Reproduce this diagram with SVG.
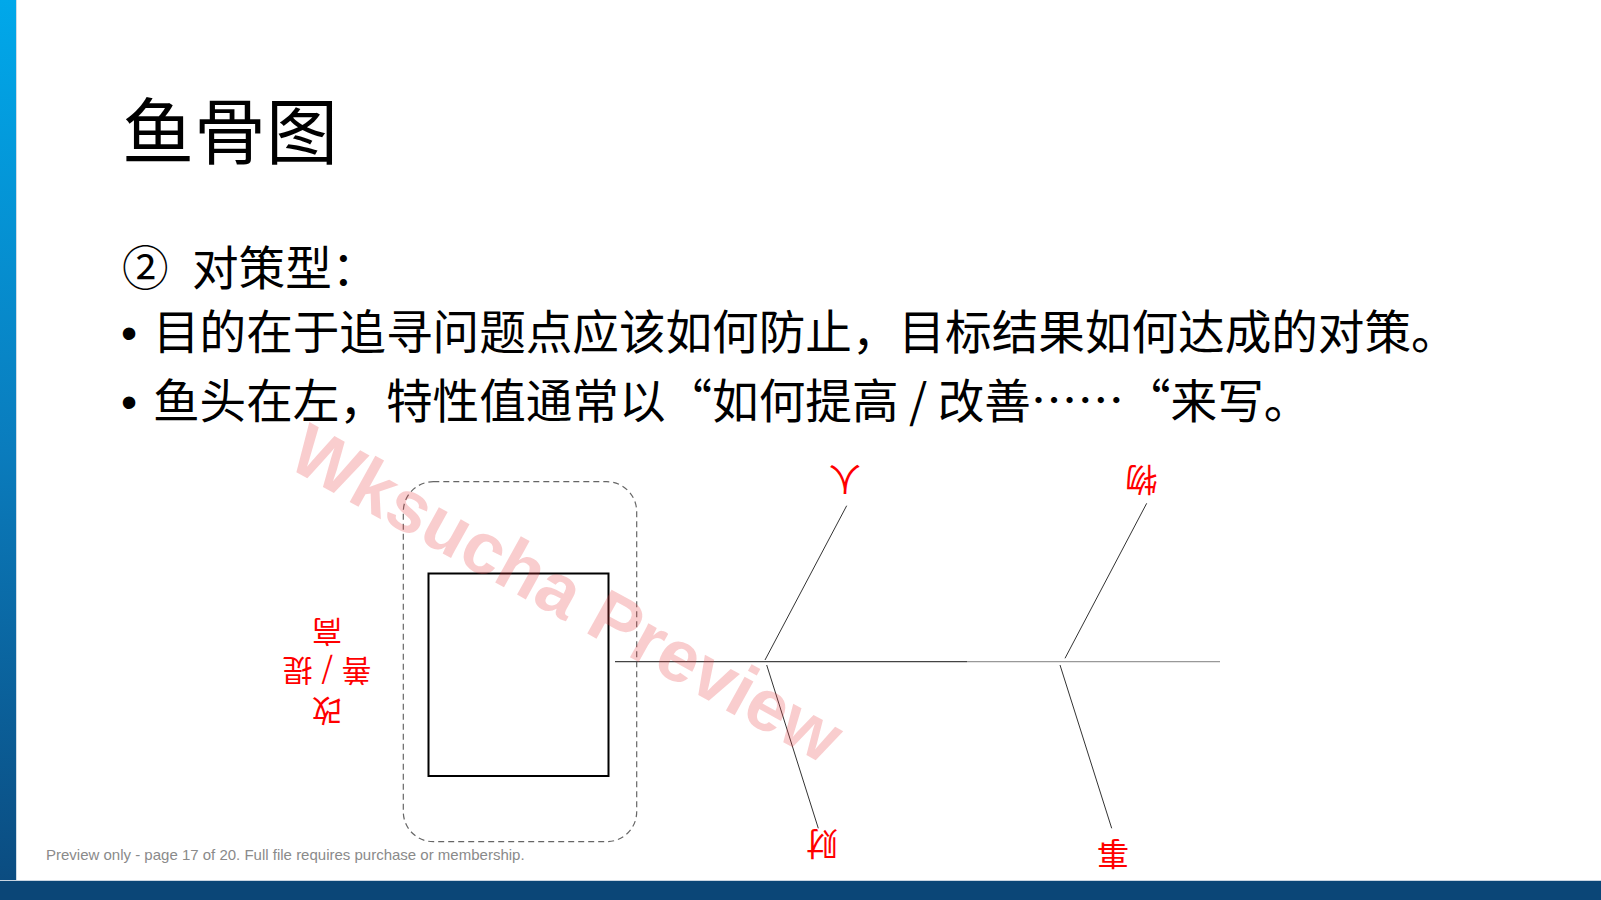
<svg xmlns="http://www.w3.org/2000/svg" width="1601" height="900" viewBox="0 0 1601 900">
  <defs>
    <linearGradient id="sideGrad" x1="0" y1="0" x2="0" y2="1">
      <stop offset="0" stop-color="#00a8ea"/>
      <stop offset="0.5" stop-color="#0a7cbd"/>
      <stop offset="1" stop-color="#0b4a7e"/>
    </linearGradient>
    <style>
      .cjk { font-family: "Noto Sans CJK SC", "Noto Sans", sans-serif; }
      .body { font-size: 46.6px; fill: #000; }
      .lbl { font-size: 32px; fill: #ff0000; text-anchor: middle; }
      .hl { font-size: 30px; fill: #ff0000; text-anchor: middle; }
      .bone { stroke: #333; stroke-width: 1; fill: none; }
    </style>
  </defs>

  <rect x="0" y="0" width="1601" height="900" fill="#ffffff"/>
  <rect x="0" y="0" width="16" height="900" fill="url(#sideGrad)"/>
  <line x1="16.5" y1="0" x2="16.5" y2="881" stroke="#cfdbe6" stroke-width="1"/>
  <line x1="0" y1="880.5" x2="1601" y2="880.5" stroke="#c9d5e1" stroke-width="1"/>
  <rect x="0" y="881" width="1601" height="19" fill="#0b4677"/>

  <text class="cjk" x="122" y="158" font-size="72" fill="#000">鱼骨图</text>

  <text class="cjk body" x="122" y="285">②</text>
  <text class="cjk body" x="192" y="285">对策型：</text>
  <text x="121" y="349" font-family="Liberation Sans, sans-serif" font-size="46" fill="#000">•</text>
  <text class="cjk body" x="153" y="349">目的在于追寻问题点应该如何防止，目标结果如何达成的对策。</text>
  <text x="121" y="418" font-family="Liberation Sans, sans-serif" font-size="46" fill="#000">•</text>
  <text class="cjk body" x="153" y="418">鱼头在左，特性值通常以“如何提高 / 改善……“来写。</text>

  <g id="head-frame">
    <rect x="403.3" y="481.7" width="233.4" height="360" rx="30" ry="30" fill="none" stroke="#666" stroke-width="1.2" stroke-dasharray="6 4"/>
  </g>
  <g id="head">
    <rect x="428.5" y="573.5" width="180" height="202.5" fill="none" stroke="#000" stroke-width="2"/>
  </g>
  <g id="head-label" transform="rotate(180 327 673.5)">
    <text class="cjk hl" x="327" y="647">改<tspan x="327" y="687" word-spacing="2">善 / 提</tspan><tspan x="327" y="726">高</tspan></text>
  </g>

  <g id="connectors">
    <line x1="615" y1="661.7" x2="967" y2="661.7" stroke="#444" stroke-width="1.3"/>
    <line x1="967" y1="661.7" x2="1220" y2="661.7" stroke="#999" stroke-width="1.2"/>
    <line class="bone" x1="765" y1="660" x2="846.7" y2="505.7"/>
    <line class="bone" x1="1065" y1="658.3" x2="1146.7" y2="503.3"/>
    <line class="bone" x1="766.7" y1="665" x2="818.3" y2="828.3"/>
    <line class="bone" x1="1060" y1="665" x2="1111.7" y2="828.3"/>
  </g>

  <g id="cat-ren" transform="rotate(180 845 478.5)">
    <text class="cjk lbl" x="845" y="490.5">人</text>
  </g>
  <g id="cat-wu" transform="rotate(180 1141.5 480)">
    <text class="cjk lbl" x="1141.5" y="492">物</text>
  </g>
  <g id="cat-cai" transform="rotate(180 822 843.5)">
    <text class="cjk lbl" x="822" y="855.5">财</text>
  </g>
  <g id="cat-shi" transform="rotate(180 1113 853.5)">
    <text class="cjk lbl" x="1113" y="865.5">事</text>
  </g>

  <text x="285" y="466" transform="rotate(29 285 466)" font-family="Liberation Sans, Arial, sans-serif" font-weight="bold" font-size="73" fill="#e8393a" fill-opacity="0.25">Wksucha Preview</text>

  <text x="46" y="860" font-family="Liberation Sans, Arial, sans-serif" font-size="15" fill="#8a8a8a">Preview only - page 17 of 20. Full file requires purchase or membership.</text>
</svg>
